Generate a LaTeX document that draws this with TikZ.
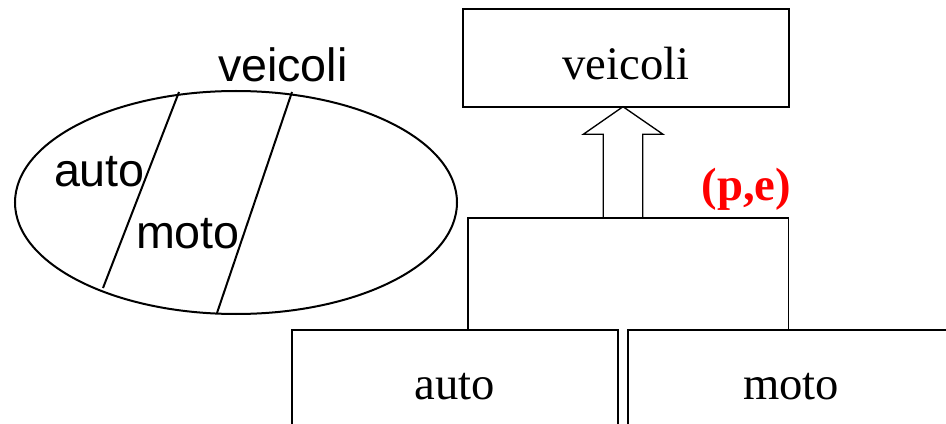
\documentclass[tikz,border=0pt]{standalone}
\usepackage{fontspec}
\setmainfont{Liberation Serif}
\setsansfont{Liberation Sans}
\begin{document}
\begin{tikzpicture}[x=0.75pt, y=-0.75pt, line width=1.5pt,
    cls/.style={draw, rectangle, inner sep=0pt, line width=1.6pt, minimum width=244.5pt, font=\fontsize{35}{40}\selectfont},
    set/.style={font=\sffamily\fontsize{35}{40}\selectfont, inner sep=0pt, anchor=base west}]
    \useasboundingbox (0,0) rectangle (946,424);
    \clip (0,0) rectangle (946,424);
    % insiemi
    \draw (236,202.5) ellipse [x radius=221, y radius=111.5];
    \draw (179,92) -- (103,288);
    \draw (292,92) -- (217,313);
    \node[set] (sv) at (217,81.7) {veicoli};
    \node[set] (sa) at (53,186.7) {auto};
    \node[set] (sm) at (135,248.3) {moto};
    % gerarchia
    \node[cls, minimum height=73pt, text height=33pt, text depth=0pt] (veicoli) at (626,58) {veicoli};
    \node[cls, minimum height=85.5pt] (auto) at (455,387) {auto};
    \node[cls, minimum height=85.5pt] (moto) at (791,387) {moto};
    \draw[line width=1pt] (468,330) -- (468,218) -- (788.5,218) -- (788.5,330);
    \coordinate (tip) at (623,106.7);
    \draw[line width=1pt] (tip) -- ++(40,27.6) -- (642.7,134.3) -- (642.7,218) -- (603.3,218) -- (603.3,134.3) -- ++(-20,0) -- cycle;
    \node[text=red, font=\bfseries\fontsize{35}{40}\selectfont, anchor=base west, inner sep=0pt] (pe) at (700.7,200) {(p,e)};
\end{tikzpicture}
\end{document}
